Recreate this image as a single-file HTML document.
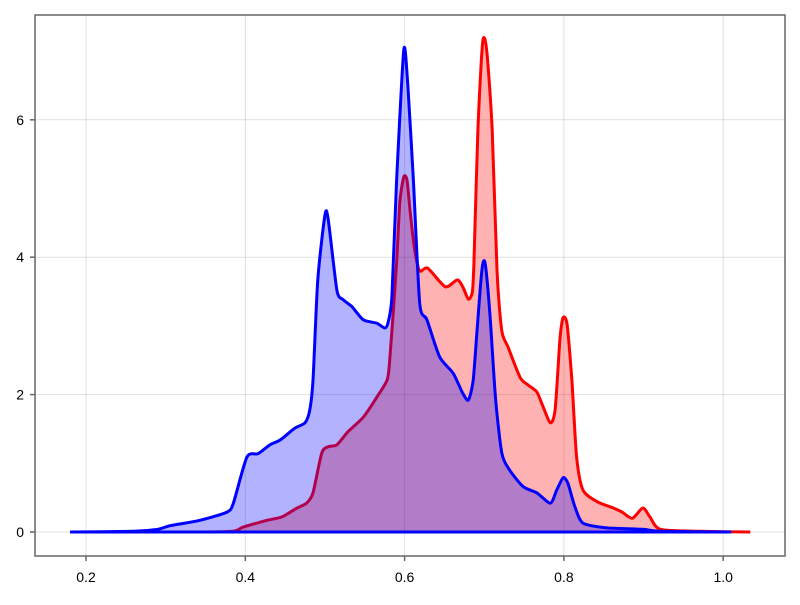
<!DOCTYPE html>
<html><head><meta charset="utf-8"><style>
html,body{margin:0;padding:0;background:#fff;}
svg text{font-family:"Liberation Sans",sans-serif;font-size:14px;fill:#000;}
</style></head><body>
<svg id="chart" width="800" height="600"></svg>
<script>
const xTicks=[0.2,0.4,0.6,0.8,1.0];
const xTickLabels=["0.2","0.4","0.6","0.8","1.0"];
const yTicks=[0,2,4,6];
const yTickLabels=["0","2","4","6"];
const redX=[0.180,0.343,0.385,0.397,0.427,0.446,0.465,0.477,0.485,0.496,0.504,0.515,0.529,0.548,0.565,0.578,0.581,0.585,0.590,0.594,0.599,0.603,0.607,0.613,0.619,0.629,0.651,0.666,0.673,0.680,0.685,0.687,0.692,0.698,0.703,0.710,0.716,0.722,0.730,0.745,0.755,0.766,0.774,0.783,0.789,0.795,0.799,0.804,0.810,0.816,0.824,0.842,0.862,0.873,0.886,0.899,0.908,0.921,0.971,1.034];
const redY=[0,0,0.01,0.07,0.17,0.22,0.35,0.42,0.57,1.15,1.24,1.27,1.46,1.67,1.96,2.21,2.46,3.09,3.92,4.80,5.17,5.12,4.66,4.08,3.80,3.84,3.57,3.67,3.57,3.39,3.49,3.90,5.85,7.13,7.02,5.85,3.81,2.93,2.69,2.25,2.14,2.04,1.82,1.59,1.78,2.80,3.12,3.02,2.21,1.09,0.61,0.44,0.35,0.29,0.20,0.35,0.22,0.04,0.01,0];
const blueX=[0.180,0.260,0.290,0.305,0.343,0.377,0.385,0.402,0.416,0.431,0.444,0.462,0.475,0.481,0.485,0.491,0.500,0.504,0.515,0.523,0.534,0.548,0.565,0.575,0.579,0.584,0.590,0.599,0.604,0.611,0.619,0.628,0.644,0.661,0.673,0.680,0.686,0.691,0.697,0.701,0.707,0.714,0.722,0.732,0.749,0.766,0.783,0.791,0.799,0.805,0.814,0.824,0.854,0.899,0.921,1.010];
const blueY=[0,0.01,0.04,0.09,0.17,0.29,0.42,1.09,1.14,1.27,1.34,1.51,1.59,1.78,2.21,3.67,4.61,4.56,3.52,3.38,3.28,3.09,3.04,2.97,3.04,3.42,5.12,7.02,6.51,5.12,3.33,3.09,2.55,2.31,2.02,1.92,2.2,2.94,3.81,3.92,3.19,1.97,1.15,0.90,0.66,0.57,0.42,0.61,0.79,0.71,0.36,0.13,0.06,0.04,0.01,0];

const L=35,R=785,T=15,B=556;
const sx=v=>86+(v-0.2)*796.5;
const sy=v=>532-v*68.7;
const NS="http://www.w3.org/2000/svg";
const svg=document.getElementById('chart');
function mk(tag,attrs,parent){const e=document.createElementNS(NS,tag);for(const k in attrs)e.setAttribute(k,attrs[k]);(parent||svg).appendChild(e);return e;}

xTicks.forEach((t,i)=>{
  const g=mk('line',{x1:sx(t),x2:sx(t),y1:T,y2:B,stroke:'#000','stroke-opacity':0.12,'stroke-width':1});
  
  
});
yTicks.forEach((t,i)=>{
  const g=mk('line',{x1:L,x2:R,y1:sy(t),y2:sy(t),stroke:'#000','stroke-opacity':0.12,'stroke-width':1});
  
  
});

function smoothPath(xs,ys){
  const p=xs.map((x,i)=>[sx(x),sy(ys[i])]);
  let d='';
  const k=0.12;
  for(let i=0;i<p.length-1;i++){
    const p0=p[Math.max(0,i-1)],p1=p[i],p2=p[i+1],p3=p[Math.min(p.length-1,i+2)];
    const c1=[p1[0]+(p2[0]-p0[0])*k,p1[1]+(p2[1]-p0[1])*k];
    const c2=[p2[0]-(p3[0]-p1[0])*k,p2[1]-(p3[1]-p1[1])*k];
    d+=' C'+c1[0].toFixed(1)+','+c1[1].toFixed(1)+' '+c2[0].toFixed(1)+','+c2[1].toFixed(1)+' '+p2[0].toFixed(1)+','+p2[1].toFixed(1);
  }
  return {start:p[0],d:d,end:p[p.length-1]};
}
function linePath(xs,ys){const s=smoothPath(xs,ys);return 'M'+s.start[0].toFixed(1)+','+s.start[1].toFixed(1)+s.d;}
function areaPath(xs,ys){const s=smoothPath(xs,ys);return 'M'+s.start[0].toFixed(1)+','+sy(0)+' L'+s.start[0].toFixed(1)+','+s.start[1].toFixed(1)+s.d+' L'+s.end[0].toFixed(1)+','+sy(0)+' Z';}

const rf=mk('path',{d:areaPath(redX,redY),fill:'#ff0000','fill-opacity':0.3,stroke:'none'});


const rl=mk('path',{d:linePath(redX,redY),fill:'none',stroke:'#ff0000','stroke-width':3,'stroke-linejoin':'round'});


const bf=mk('path',{d:areaPath(blueX,blueY),fill:'#0000ff','fill-opacity':0.3,stroke:'none'});


const bl=mk('path',{d:linePath(blueX,blueY),fill:'none',stroke:'#0000ff','stroke-width':3,'stroke-linejoin':'round'});


const bb=mk('line',{x1:sx(blueX[0]),x2:sx(blueX[blueX.length-1]),y1:sy(0),y2:sy(0),stroke:'#0000ff','stroke-width':3});



const fr=mk('rect',{x:L,y:T,width:R-L,height:B-T,fill:'none',stroke:'#666','stroke-width':1.5});



xTicks.forEach((t,i)=>{
  const tk=mk('line',{x1:sx(t),x2:sx(t),y1:B,y2:B+5,stroke:'#666','stroke-width':1.5});
  
  
  const tx=mk('text',{x:sx(t),y:582,'text-anchor':'middle'});
  tx.textContent=xTickLabels[i];
  
  
});
yTicks.forEach((t,i)=>{
  const tk=mk('line',{x1:L-5,x2:L,y1:sy(t),y2:sy(t),stroke:'#666','stroke-width':1.5});
  
  
  const tx=mk('text',{x:24,y:sy(t)+5,'text-anchor':'end'});
  tx.textContent=yTickLabels[i];
  
  
});
</script>
</body></html>
